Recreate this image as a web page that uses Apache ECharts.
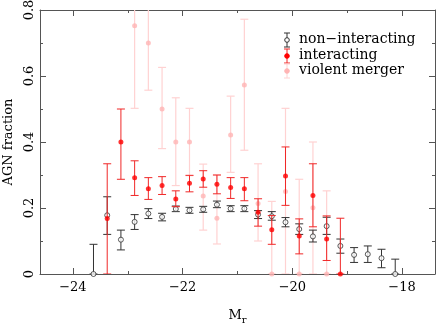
<!DOCTYPE html>
<html><head><meta charset="utf-8">
<script src="https://cdn.jsdelivr.net/npm/echarts@6/dist/echarts.min.js"></script>
<style>html,body{margin:0;padding:0;background:#fff}#c{width:436px;height:325px}</style>
</head><body><div id="c"></div>
<script>
// Bin centres (M_r)
const bins = [-23.625,-23.375,-23.125,-22.875,-22.625,-22.375,-22.125,-21.875,-21.625,-21.375,-21.125,-20.875,-20.625,-20.375,-20.125,-19.875,-19.625,-19.375,-19.125,-18.875,-18.625,-18.375,-18.125];

// non-interacting: value, lower, upper (bins 0..22)
const nonVal = [0,0.178,0.104,0.158,0.183,0.173,0.197,0.193,0.196,0.210,0.198,0.198,0.180,0.175,0.157,0.136,0.114,0.145,0.085,0.058,0.060,0.048,0];
const nonLo  = [0,0.120,0.073,0.135,0.168,0.161,0.189,0.184,0.187,0.201,0.189,0.189,0.168,0.163,0.143,0.120,0.097,0.120,0.063,0.035,0.035,0.019,0];
const nonHi  = [0.090,0.234,0.133,0.180,0.198,0.184,0.206,0.202,0.205,0.221,0.207,0.207,0.192,0.189,0.171,0.152,0.133,0.172,0.106,0.080,0.085,0.075,0.045];

// interacting (bins 1..18)
const intStart = 1;
const intVal = [0.168,0.400,0.292,0.258,0.268,0.227,0.275,0.288,0.272,0.262,0.258,0.187,0.134,0.297,0.115,0.238,0.106,0];
const intLo  = [0,0.287,0.238,0.226,0.241,0.204,0.249,0.263,0.243,0.229,0.222,0.145,0.090,0.208,0.061,0.143,0.041,0];
const intHi  = [0.334,0.500,0.343,0.292,0.295,0.252,0.299,0.313,0.300,0.292,0.292,0.228,0.177,0.385,0.167,0.334,0.176,0.169];

// violent merger (bins 3..17)
const vioStart = 3;
const vioVal = [0.752,0.700,0.500,0.400,0.400,0.236,0.169,0.421,0.573,0.214,0,0.250,0,0.201,0];
const vioLo  = [0.502,0.557,0.380,0.268,0.298,0.133,0.091,0.308,0.375,0.100,0,0,0,0,0];
const vioHi  = [0.950,0.920,0.626,0.534,0.502,0.333,0.300,0.539,0.772,0.334,0.220,0.502,0.287,0.400,0.252];

const xMajor = [-24,-22,-20,-18];
const xMinor = [-23,-21,-19];

const legendNames = ['non\u2212interacting','interacting','violent merger'];

const FONT = 'DejaVu Serif';
const AX = '#555';

function rows(start, v, lo, hi){
  return v.map((y,i)=>[bins[start+i], y, lo[i], hi[i]]);
}
function errRender(color, lw){
  return function(params, api){
    const x = api.value(0);
    const p1 = api.coord([x, api.value(2)]);
    const p2 = api.coord([x, api.value(3)]);
    const cw = 4;
    const st = {stroke: color, lineWidth: lw};
    return {type:'group', children:[
      {type:'line', shape:{x1:p1[0],y1:p1[1],x2:p2[0],y2:p2[1]}, style:st},
      {type:'line', shape:{x1:p1[0]-cw,y1:p1[1],x2:p1[0]+cw,y2:p1[1]}, style:st},
      {type:'line', shape:{x1:p2[0]-cw,y1:p2[1],x2:p2[0]+cw,y2:p2[1]}, style:st}
    ]};
  };
}

const nonData = rows(0, nonVal, nonLo, nonHi);
const intData = rows(intStart, intVal, intLo, intHi);
const vioData = rows(vioStart, vioVal, vioLo, vioHi);

const C_NON = '#333333', C_INT = '#ff0000', C_VIO_PT = '#ffb4b4', C_VIO_BAR = '#ffd2d2', C_INT_BAR = '#f02828';

function legendGlyph(y, bar, fill, stroke){
  const x = 287, h = 7, cw = 3;
  return [
    {type:'line', shape:{x1:x,y1:y-h,x2:x,y2:y+h}, style:{stroke:bar,lineWidth:1}},
    {type:'line', shape:{x1:x-cw,y1:y-h,x2:x+cw,y2:y-h}, style:{stroke:bar,lineWidth:1}},
    {type:'line', shape:{x1:x-cw,y1:y+h,x2:x+cw,y2:y+h}, style:{stroke:bar,lineWidth:1}},
    {type:'circle', shape:{cx:x,cy:y,r:2.3}, style:{fill:fill, stroke:stroke, lineWidth:1}}
  ];
}
const legY = [40, 56, 71];

const chart = echarts.init(document.getElementById('c'), null, {renderer:'canvas'});
const baseX = {type:'value', min:-24.6, max:-17.4, splitLine:{show:false}, gridIndex:0};
chart.setOption({
  animation:false,
  backgroundColor:'#fff',
  grid:{left:40, right:1, top:10, bottom:51, containLabel:false, outerBoundsMode:'none'},
  xAxis:[
    Object.assign({}, baseX, {position:'bottom',
      axisLine:{show:true,onZero:false,lineStyle:{color:AX,width:1}},
      axisTick:{show:true,inside:true,length:6,customValues:xMajor,lineStyle:{color:AX}},
      axisLabel:{show:true,customValues:xMajor,margin:7,color:'#000',fontFamily:FONT,fontSize:13,
        formatter:v=>String(v).replace('-','\u2212')},
      name:'{a|M}{b|r}', nameLocation:'middle', nameGap:32,
      nameTextStyle:{color:'#000',fontFamily:FONT,rich:{a:{fontSize:13,fontFamily:FONT,color:'#000'},b:{fontSize:10,fontFamily:FONT,color:'#000',padding:[9,0,0,0]}}}
    }),
    Object.assign({}, baseX, {position:'bottom',
      axisLine:{show:false,onZero:false},
      axisTick:{show:true,inside:true,length:3,customValues:xMinor,lineStyle:{color:AX}},
      axisLabel:{show:false}}),
    Object.assign({}, baseX, {position:'top',
      axisLine:{show:true,onZero:false,lineStyle:{color:AX,width:1}},
      axisTick:{show:true,inside:true,length:6,customValues:xMajor,lineStyle:{color:AX}},
      axisLabel:{show:false}}),
    Object.assign({}, baseX, {position:'top',
      axisLine:{show:false,onZero:false},
      axisTick:{show:true,inside:true,length:3,customValues:xMinor,lineStyle:{color:AX}},
      axisLabel:{show:false}})
  ],
  yAxis:[
    {type:'value', min:0, max:0.8, interval:0.2, position:'left', splitLine:{show:false},
      axisLine:{show:true,onZero:false,lineStyle:{color:AX}},
      axisTick:{show:true,inside:true,length:6,lineStyle:{color:AX}},
      minorTick:{show:true,splitNumber:2,length:3,lineStyle:{color:AX}},
      axisLabel:{show:true,rotate:90,margin:4,color:'#000',fontFamily:FONT,fontSize:13,
        formatter:v=>v===0?'0':v.toFixed(1)},
      name:'AGN fraction', nameLocation:'middle', nameGap:21,
      nameTextStyle:{color:'#000',fontFamily:FONT,fontSize:13}},
    {type:'value', min:0, max:0.8, interval:0.2, position:'right', splitLine:{show:false},
      axisLine:{show:true,onZero:false,lineStyle:{color:AX}},
      axisTick:{show:true,inside:true,length:6,lineStyle:{color:AX}},
      minorTick:{show:true,splitNumber:2,length:3,lineStyle:{color:AX}},
      axisLabel:{show:false}}
  ],
  series:[
    {name:legendNames[2]+' err', type:'custom', clip:true, renderItem:errRender(C_VIO_BAR,1.2), data:vioData, encode:{x:0,y:[2,3]}, z:1},
    {name:legendNames[2], type:'scatter', data:vioData.map(d=>[d[0],d[1]]), symbol:'circle', symbolSize:5,
      itemStyle:{color:C_VIO_PT}, z:2, clip:true},
    {name:legendNames[0]+' err', type:'custom', clip:true, renderItem:errRender(C_NON,1), data:nonData, encode:{x:0,y:[2,3]}, z:3},
    {name:legendNames[0], type:'scatter', data:nonData.map(d=>[d[0],d[1]]), symbol:'circle', symbolSize:5,
      itemStyle:{color:'#fff',borderColor:C_NON,borderWidth:1}, z:4, clip:true},
    {name:legendNames[1]+' err', type:'custom', clip:true, renderItem:errRender(C_INT_BAR,1), data:intData, encode:{x:0,y:[2,3]}, z:5},
    {name:legendNames[1], type:'scatter', data:intData.map(d=>[d[0],d[1]]), symbol:'circle', symbolSize:5,
      itemStyle:{color:C_INT}, z:6, clip:true}
  ],
  graphic:[
    ...legendGlyph(legY[0], C_NON, '#fff', C_NON),
    ...legendGlyph(legY[1], C_INT_BAR, C_INT, C_INT),
    ...legendGlyph(legY[2], C_VIO_BAR, C_VIO_PT, C_VIO_PT),
    ...legendNames.map((t,i)=>({type:'text', left:299, top:legY[i]-8, style:{text:t, fontFamily:FONT, fontSize:14, fill:'#000'}}))
  ]
});
</script></body></html>
